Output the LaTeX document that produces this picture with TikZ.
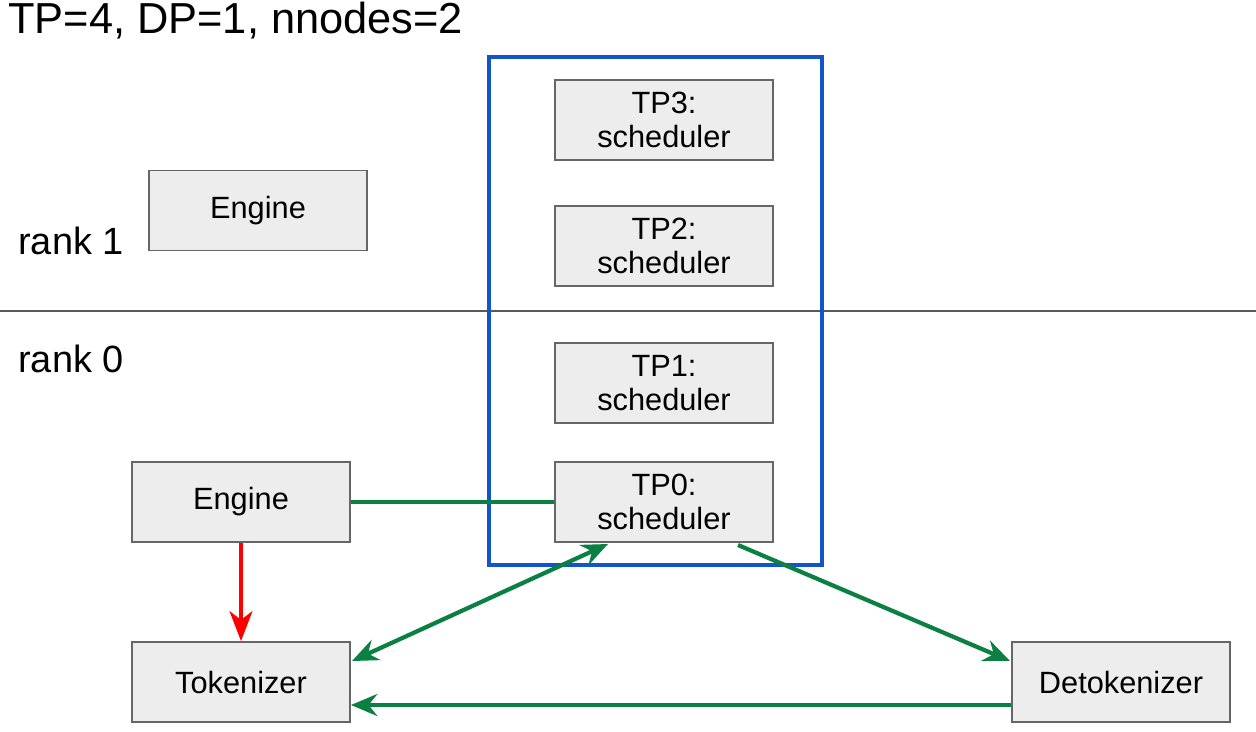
\documentclass[tikz,border=0pt]{standalone}
\usepackage{fontspec}
\setmainfont{Liberation Sans}
\usetikzlibrary{arrows.meta}
\begin{document}
\begin{tikzpicture}[x=0.02cm,y=-0.02cm,
  box/.style={draw=black!60, fill=black!7, line width=1.1pt, minimum width=4.36cm, minimum height=1.6cm, align=center, font=\fontsize{17.5}{19.8}\selectfont, inner sep=0pt},
  link/.style={draw=gdark, line width=2.4pt},
  ghead/.style={-{Stealth[length=15pt,width=12.5pt,inset=5pt]}},
  lbl/.style={anchor=west, inner sep=0pt}]
\definecolor{gdark}{HTML}{0B8043}
\definecolor{bblue}{HTML}{1155CC}
\useasboundingbox (0,0) rectangle (1256,731);
\node[lbl, font=\fontsize{24.7}{27}\selectfont] (title) at (8,21) {TP=4, DP=1, nnodes=2};
\node[lbl, font=\fontsize{21.6}{24}\selectfont] (r1) at (18,241) {rank 1};
\node[lbl, font=\fontsize{21.6}{24}\selectfont] (r0) at (18,359) {rank 0};
\coordinate (sepL) at (0,311);
\coordinate (sepR) at (1256,311);
\draw[black!65, line width=0.6pt] (sepL) -- (sepR);
\node[box] (eng1) at (258,210.5) {Engine};
\node[box] (tp3) at (664,120) {TP3:\\scheduler};
\node[box] (tp2) at (664,246) {TP2:\\scheduler};
\node[box] (tp1) at (664,383) {TP1:\\scheduler};
\node[box] (tp0) at (664,502) {TP0:\\scheduler};
\node[box] (eng0) at (241,502) {Engine};
\node[box] (tok) at (241,682) {Tokenizer};
\node[box] (detok) at (1121,682) {Detokenizer};
\node[draw=bblue, line width=2.3pt, minimum width=6.66cm, minimum height=10.16cm, inner sep=0pt] (grp) at (655.5,311) {};
\draw[link] (eng0.east) -- (tp0.west);
\draw[red, line width=2.4pt, -{Stealth[length=17pt,width=13pt,inset=5pt]}] (eng0.south) -- (tok.north);
\coordinate (tp0a) at (608,544);
\coordinate (tp0b) at (738,545);
\coordinate (tokR) at (352,661);
\coordinate (detL) at (1010,661);
\draw[link, {Stealth[length=15pt,width=12.5pt,inset=5pt]}-{Stealth[length=15pt,width=12.5pt,inset=5pt]}] (tokR) -- (tp0a);
\draw[link, ghead] (tp0b) -- (detL);
\draw[link, ghead] (detok.west |- 0,705) -- (tok.east |- 0,705);
\end{tikzpicture}
\end{document}
